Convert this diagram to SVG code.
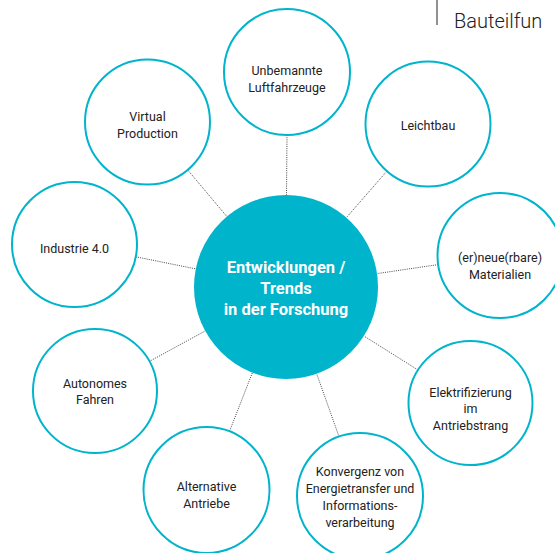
<svg xmlns="http://www.w3.org/2000/svg" width="555" height="553" viewBox="0 0 555 553">
<style>
.node circle{fill:#fff;stroke:#00b4cc;stroke-width:2}
.node text{font-family:Roboto,"Noto Sans",sans-serif;font-size:12.5px;fill:#222;text-anchor:middle}
.con line{stroke:#333;stroke-width:0.9;stroke-dasharray:1 1.2}
#center circle{fill:#00b4cc}
#center text{font-family:Roboto,"Noto Sans",sans-serif;font-size:16.5px;font-weight:bold;fill:#fff;text-anchor:middle}
</style>
<rect width="555" height="553" fill="#fff"/>
<line x1="437" y1="0" x2="437" y2="25" stroke="#222" stroke-width="1"/>
<text x="454" y="28" font-family="Roboto,'Noto Sans',sans-serif" font-size="20" font-weight="300" fill="#222">Bauteilfun</text>
<g class="con">
<line x1="287" y1="135" x2="286.5" y2="195"/>
<line x1="386.9" y1="171.1" x2="346.4" y2="217.6"/>
<line x1="187.7" y1="169.9" x2="226.8" y2="216.5"/>
<line x1="135.8" y1="256.8" x2="195.8" y2="268.9"/>
<line x1="438.2" y1="264.6" x2="377" y2="273.6"/>
<line x1="418" y1="370" x2="363.9" y2="336"/>
<line x1="339" y1="436.6" x2="316.7" y2="373.8"/>
<line x1="229.5" y1="431.3" x2="252.4" y2="372.7"/>
<line x1="149.4" y1="361.4" x2="205.2" y2="331"/>
</g>
<g id="center">
<circle cx="286" cy="287" r="92"/>
<text x="286" y="273">Entwicklungen /</text>
<text x="286" y="294">Trends</text>
<text x="286" y="315">in der Forschung</text>
</g>
<g id="n-uav" class="node">
<circle cx="287" cy="72" r="63"/>
<text x="287" y="75">Unbemannte</text>
<text x="287" y="92">Luftfahrzeuge</text>
</g>
<g id="n-leichtbau" class="node">
<circle cx="428" cy="124" r="62.5"/>
<text x="428" y="130">Leichtbau</text>
</g>
<g id="n-virtual" class="node">
<circle cx="147.5" cy="122" r="62.5"/>
<text x="147.5" y="121">Virtual</text>
<text x="147.5" y="138">Production</text>
</g>
<g id="n-industrie" class="node">
<circle cx="74.5" cy="244.5" r="62.5"/>
<text x="74.5" y="253">Industrie 4.0</text>
</g>
<g id="n-materialien" class="node">
<circle cx="500" cy="255.5" r="62.5"/>
<text x="500" y="262">(er)neue(rbare)</text>
<text x="500" y="279">Materialien</text>
</g>
<g id="n-autonom" class="node">
<circle cx="95" cy="391" r="62"/>
<text x="95" y="388">Autonomes</text>
<text x="95" y="404">Fahren</text>
</g>
<g id="n-elektro" class="node">
<circle cx="470.5" cy="403" r="62"/>
<text x="470.5" y="397">Elektrifizierung</text>
<text x="470.5" y="413">im</text>
<text x="470.5" y="430">Antriebstrang</text>
</g>
<g id="n-alternativ" class="node">
<circle cx="206.5" cy="490" r="63"/>
<text x="206.5" y="491">Alternative</text>
<text x="206.5" y="508">Antriebe</text>
</g>
<g id="n-konvergenz" class="node">
<circle cx="360" cy="496" r="63"/>
<text x="360" y="476">Konvergenz von</text>
<text x="360" y="493">Energietransfer und</text>
<text x="360" y="510">Informations-</text>
<text x="360" y="527">verarbeitung</text>
</g>
</svg>
